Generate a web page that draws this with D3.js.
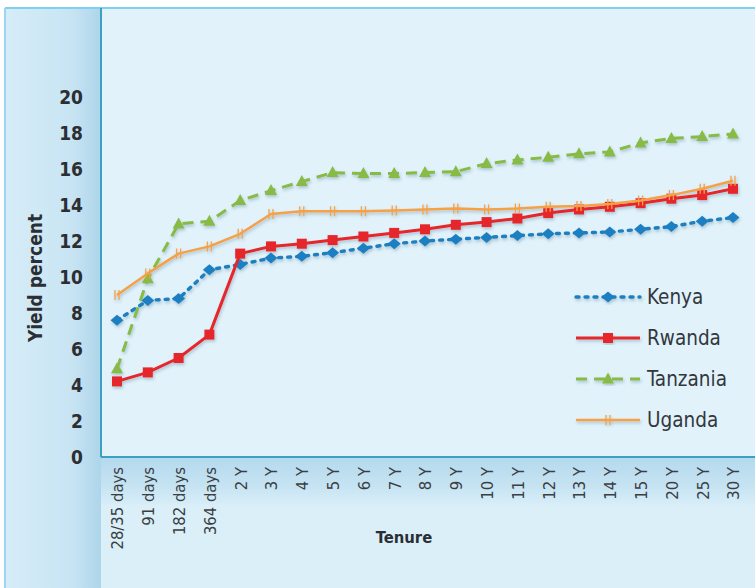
<!DOCTYPE html>
<html><head><meta charset="utf-8">
<script src="https://cdn.jsdelivr.net/npm/d3@7"></script>
<style>body{margin:0;background:#fff}svg{display:block}</style>
</head><body><svg id="c" width="755" height="588"></svg>
<script>
const categories = ["28/35 days","91 days","182 days","364 days","2 Y","3 Y","4 Y","5 Y","6 Y","7 Y","8 Y","9 Y","10 Y","11 Y","12 Y","13 Y","14 Y","15 Y","20 Y","25 Y","30 Y"];
const kenya    = [7.6,8.7,8.8,10.4,10.7,11.05,11.15,11.35,11.6,11.85,12.0,12.1,12.2,12.3,12.4,12.45,12.5,12.65,12.8,13.1,13.3];
const rwanda   = [4.2,4.7,5.5,6.8,11.3,11.7,11.85,12.05,12.25,12.45,12.65,12.9,13.05,13.25,13.55,13.75,13.9,14.1,14.35,14.55,14.9];
const tanzania = [4.9,9.9,12.95,13.1,14.25,14.8,15.3,15.8,15.75,15.75,15.8,15.85,16.3,16.5,16.65,16.85,16.95,17.45,17.7,17.8,17.95];
const uganda   = [9.0,10.2,11.3,11.7,12.4,13.5,13.65,13.65,13.65,13.7,13.75,13.8,13.75,13.8,13.9,13.95,14.05,14.25,14.55,14.9,15.35];
const seriesNames = ["Kenya","Rwanda","Tanzania","Uganda"];
const yTicks = [0,2,4,6,8,10,12,14,16,18,20];

const svg = d3.select("#c");
const W = 755, H = 588;
const frameL = 5, frameT = 8, axisX = 101, axisY = 457;

const defs = svg.append("defs");
const gl = defs.append("linearGradient").attr("id","gl").attr("x1","0").attr("x2","1").attr("y1","0").attr("y2","0");
gl.append("stop").attr("offset","0").attr("stop-color","#d6edf8");
gl.append("stop").attr("offset","0.7").attr("stop-color","#c8e4f3");
gl.append("stop").attr("offset","1").attr("stop-color","#aed5ea");
const gb = defs.append("linearGradient").attr("id","gb").attr("x1","0").attr("x2","0").attr("y1","0").attr("y2","1");
gb.append("stop").attr("offset","0").attr("stop-color","#b4d9ed");
gb.append("stop").attr("offset","0.6").attr("stop-color","#c6e3f2");
gb.append("stop").attr("offset","1").attr("stop-color","#d8eef9");
const sh = defs.append("filter").attr("id","sh").attr("x","-10%").attr("y","-10%").attr("width","120%").attr("height","130%");
sh.append("feDropShadow").attr("dx",1).attr("dy",2).attr("stdDeviation",1.5).attr("flood-color","#2a5a70").attr("flood-opacity",0.3);

// backgrounds
svg.append("rect").attr("x",frameL).attr("y",frameT).attr("width",W-frameL).attr("height",H-frameT).attr("fill","#dbeff9");
svg.append("rect").attr("x",axisX).attr("y",frameT).attr("width",W-axisX).attr("height",axisY-frameT).attr("fill","#e1f2fb");
svg.append("rect").attr("x",axisX).attr("y",axisY).attr("width",W-axisX).attr("height",48).attr("fill","url(#gb)");
svg.append("rect").attr("x",frameL).attr("y",frameT).attr("width",axisX-frameL).attr("height",H-frameT).attr("fill","url(#gl)");
// frame lines
svg.append("line").attr("x1",frameL).attr("x2",W).attr("y1",frameT).attr("y2",frameT).attr("stroke","#7fd1f0").attr("stroke-width",2);
svg.append("line").attr("x1",frameL).attr("x2",frameL).attr("y1",frameT).attr("y2",H).attr("stroke","#9ad8f1").attr("stroke-width",2);
// axis lines
svg.append("line").attr("x1",axisX).attr("x2",axisX).attr("y1",frameT).attr("y2",axisY).attr("stroke","#3d9fc2").attr("stroke-width",2);
svg.append("line").attr("x1",axisX).attr("x2",W).attr("y1",axisY).attr("y2",axisY).attr("stroke","#3d9fc2").attr("stroke-width",2);

const x = d3.scalePoint().domain(categories).range([117,733]);
const y = d3.scaleLinear().domain([0,20]).range([axisY,97]);

const font = "'DejaVu Sans Condensed','DejaVu Sans',sans-serif";

// y axis
const ya = svg.append("g").attr("transform",`translate(83,0)`)
  .call(d3.axisLeft(y).tickValues(yTicks).tickSize(0).tickPadding(0));
ya.select(".domain").remove();
ya.selectAll("text").attr("font-family",font).attr("font-weight","bold").attr("font-size",19).attr("fill","#2b2f33").attr("dy","0.36em");

// x axis
const xa = svg.append("g").attr("transform",`translate(0,${axisY})`)
  .call(d3.axisBottom(x).tickSize(0).tickPadding(0));
xa.select(".domain").remove();
xa.selectAll("text").attr("font-family",font).attr("font-size",16.5).attr("fill","#3a3f44")
  .attr("transform","rotate(-90)").attr("text-anchor","end").attr("x",-10).attr("y",0).attr("dy","0.36em");

svg.append("text").attr("transform","translate(42,278) rotate(-90)").attr("text-anchor","middle")
  .attr("font-family",font).attr("font-weight","bold").attr("font-size",19).attr("fill","#2b2f33").text("Yield percent");
svg.append("text").attr("x",404).attr("y",543).attr("text-anchor","middle")
  .attr("font-family",font).attr("font-weight","bold").attr("font-size",16.5).attr("fill","#2b2f33").text("Tenure");

const specs = [
  {name:"Kenya", data:kenya, color:"#1f7fc1", dash:"3,6", cap:"round", w:3.4, shape:"diamond"},
  {name:"Rwanda", data:rwanda, color:"#e5262b", dash:null, cap:"butt", w:3, shape:"square"},
  {name:"Tanzania", data:tanzania, color:"#87bb45", dash:"11,7", cap:"butt", w:3, shape:"triangle"},
  {name:"Uganda", data:uganda, color:"#f5a146", dash:null, cap:"butt", w:2.5, shape:"tick"}
];

function marker(g, shape, color, cx, cy){
  if(shape==="diamond"){
    g.append("path").attr("d",`M${cx-6.5},${cy} L${cx},${cy-5.5} L${cx+6.5},${cy} L${cx},${cy+5.5} Z`).attr("fill",color);
  } else if(shape==="square"){
    g.append("rect").attr("x",cx-5).attr("y",cy-5).attr("width",10).attr("height",10).attr("fill",color);
  } else if(shape==="triangle"){
    g.append("path").attr("d",`M${cx},${cy-6.5} L${cx+6},${cy+4.5} L${cx-6},${cy+4.5} Z`).attr("fill",color);
  } else {
    g.append("path").attr("d",`M${cx-2},${cy-5} V${cy+5} M${cx+2},${cy-5} V${cy+5}`).attr("stroke",color).attr("stroke-width",1.3).attr("fill","none");
  }
}

const line = d3.line().x((d,i)=>x(categories[i])).y(d=>y(d));
const plot = svg.append("g").attr("filter","url(#sh)");
specs.forEach(s=>{
  const g = plot.append("g");
  g.append("path").datum(s.data).attr("d",line).attr("fill","none").attr("stroke",s.color)
    .attr("stroke-width",s.w).attr("stroke-dasharray",s.dash).attr("stroke-linecap",s.cap).attr("stroke-linejoin","round");
  s.data.forEach((v,i)=>marker(g,s.shape,s.color,x(categories[i]),y(v)));
});

// legend
const legY = d3.scalePoint().domain(seriesNames).range([297,420]);
const lg = svg.append("g");
specs.forEach(s=>{
  const cy = legY(s.name);
  const g = lg.append("g").attr("filter","url(#sh)");
  g.append("line").attr("x1",576).attr("x2",640).attr("y1",cy).attr("y2",cy).attr("stroke",s.color)
    .attr("stroke-width",s.w).attr("stroke-dasharray",s.dash).attr("stroke-linecap",s.cap);
  marker(g,s.shape,s.color,608,cy);
  lg.append("text").attr("x",647).attr("y",cy).attr("dy","0.36em").attr("font-family",font)
    .attr("font-size",20.5).attr("fill","#33383d").text(s.name);
});
</script></body></html>
